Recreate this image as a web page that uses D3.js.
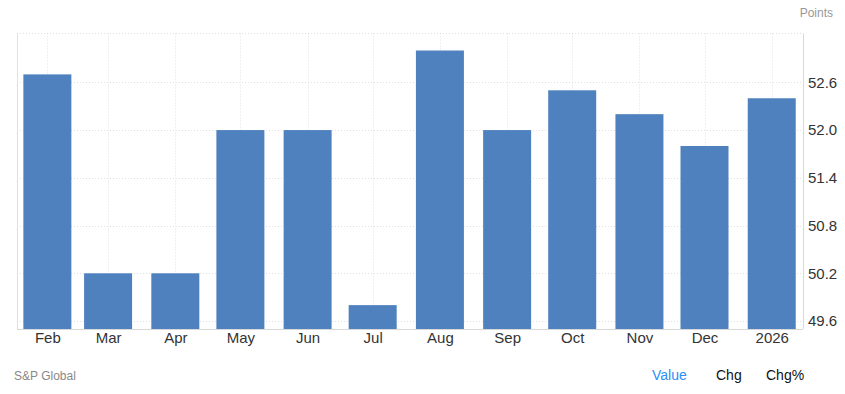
<!DOCTYPE html>
<html>
<head>
<meta charset="utf-8">
<script src="https://cdn.jsdelivr.net/npm/d3@7"></script>
<style>
  body { margin: 0; background: #fff; }
  svg { font-family: "Liberation Sans", Arial, sans-serif; }
</style>
</head>
<body>
<div id="chart"></div>
<script>
// months shown (first of each month) and the reading for each
const dates = ["2025-02-01", "2025-03-01", "2025-04-01", "2025-05-01", "2025-06-01", "2025-07-01",
  "2025-08-01", "2025-09-01", "2025-10-01", "2025-11-01", "2025-12-01", "2026-01-01"];
const tickLabels = ["Feb", "Mar", "Apr", "May", "Jun", "Jul", "Aug", "Sep", "Oct", "Nov", "Dec", "2026"];
const values = [52.7, 50.2, 50.2, 52.0, 52.0, 49.8, 53.0, 52.0, 52.5, 52.2, 51.8, 52.4];
const yTicks = [49.6, 50.2, 50.8, 51.4, 52.0, 52.6];

const w = 845, h = 394;
const plotLeft = 17, plotRight = 803, plotTop = 33.5, plotBottom = 329;

const parse = d3.utcParse("%Y-%m-%d");
const data = dates.map((d, i) => ({ date: parse(d), value: values[i], label: tickLabels[i] }));

const svg = d3.select("#chart").append("svg")
  .attr("width", w)
  .attr("height", h);

// time axis so month spacing follows the calendar
const x = d3.scaleUtc()
  .domain([new Date(Date.UTC(2025, 0, 18)), new Date(Date.UTC(2026, 0, 15, 10))])
  .range([plotLeft, plotRight]);

const y = d3.scaleLinear()
  .domain([49.5, 53.2])
  .range([plotBottom, 34.6]);

const gridColor = "#e0e0e0";

// horizontal grid
svg.append("g").selectAll("line")
  .data(yTicks)
  .join("line")
  .attr("x1", plotLeft).attr("x2", plotRight)
  .attr("y1", d => Math.round(y(d)) + 0.5).attr("y2", d => Math.round(y(d)) + 0.5)
  .attr("stroke", gridColor)
  .attr("stroke-dasharray", "1,2");

// top border of the plot, dotted like the grid
svg.append("line")
  .attr("x1", plotLeft).attr("x2", plotRight)
  .attr("y1", plotTop).attr("y2", plotTop)
  .attr("stroke", gridColor)
  .attr("stroke-dasharray", "1,2");

// vertical grid at each month
svg.append("g").selectAll("line")
  .data(data)
  .join("line")
  .attr("x1", d => Math.round(x(d.date)) + 0.5).attr("x2", d => Math.round(x(d.date)) + 0.5)
  .attr("y1", plotTop).attr("y2", plotBottom)
  .attr("stroke", gridColor)
  .attr("stroke-dasharray", "1,2");

// left plot border
svg.append("line")
  .attr("x1", plotLeft + 0.5).attr("x2", plotLeft + 0.5)
  .attr("y1", plotTop).attr("y2", plotBottom)
  .attr("stroke", gridColor);

// bars
const barW = 48;
svg.append("g").selectAll("rect")
  .data(data)
  .join("rect")
  .attr("x", d => x(d.date) - barW / 2)
  .attr("y", d => y(d.value))
  .attr("width", barW)
  .attr("height", d => plotBottom - y(d.value))
  .attr("fill", "#4e81bd");

// x axis
const xAxis = d3.axisBottom(x)
  .tickValues(data.map(d => d.date))
  .tickFormat((d, i) => tickLabels[i])
  .tickSize(0)
  .tickPadding(3);

const gx = svg.append("g")
  .attr("transform", `translate(0,${plotBottom})`)
  .call(xAxis);
gx.select(".domain").attr("stroke", "#d8d8d8").attr("d", `M${plotLeft},0.5H${plotRight}`);
gx.selectAll("text").attr("font-size", 15).attr("fill", "#333").attr("font-family", "Liberation Sans, Arial, sans-serif");

// y axis on the right
const yAxis = d3.axisRight(y)
  .tickValues(yTicks)
  .tickFormat(d3.format(".1f"))
  .tickSize(0)
  .tickPadding(5);

const gy = svg.append("g")
  .attr("transform", `translate(${plotRight},0)`)
  .call(yAxis);
gy.select(".domain").attr("stroke", "#d8d8d8").attr("d", `M0.5,${plotTop}V${plotBottom}`);
gy.selectAll("text").attr("font-size", 15).attr("fill", "#333").attr("font-family", "Liberation Sans, Arial, sans-serif");

// unit label
svg.append("text")
  .attr("x", 833).attr("y", 17)
  .attr("text-anchor", "end")
  .attr("font-size", 12)
  .attr("fill", "#999")
  .text("Points");

// source
svg.append("text")
  .attr("x", 14).attr("y", 380)
  .attr("font-size", 12)
  .attr("fill", "#888")
  .text("S&P Global");

// toggle buttons
svg.append("text").attr("x", 652).attr("y", 380).attr("font-size", 14).attr("fill", "#2d8ef5").text("Value");
svg.append("text").attr("x", 716).attr("y", 380).attr("font-size", 14).attr("fill", "#111").text("Chg");
svg.append("text").attr("x", 766).attr("y", 380).attr("font-size", 14).attr("fill", "#111").text("Chg%");
</script>
</body>
</html>
